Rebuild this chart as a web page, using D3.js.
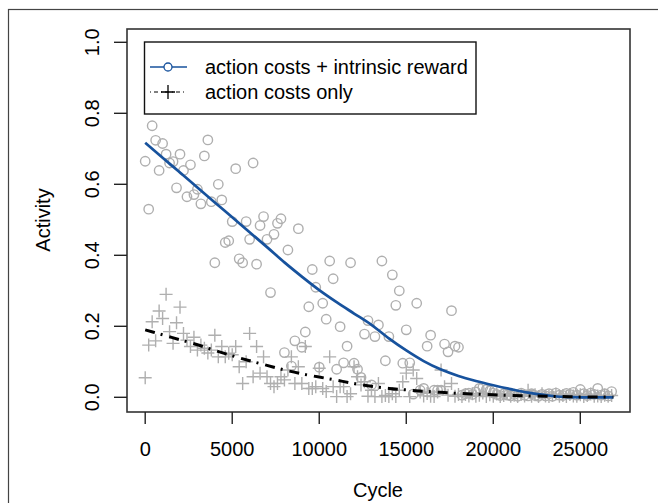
<!DOCTYPE html>
<html><head><meta charset="utf-8">
<script src="https://cdn.jsdelivr.net/npm/d3@7/dist/d3.min.js"></script>
<style>
html,body{margin:0;padding:0;background:#fff;}
svg{display:block;}
text{font-family:"Liberation Sans",Arial,Helvetica,sans-serif;fill:#000;}
</style></head>
<body>
<svg id="chart" width="658" height="503"></svg>
<script>
// ---------- data ----------
const cycleStep = 200;
const rewardActivity = [
0.665,0.53,0.765,0.724,0.639,0.715,0.685,0.66,0.664,0.59,
0.685,0.639,0.565,0.655,0.571,0.586,0.545,0.68,0.725,0.551,
0.379,0.6,0.556,0.436,0.441,0.495,0.644,0.39,0.379,0.495,
0.445,0.66,0.375,0.484,0.509,0.445,0.295,0.459,0.49,0.503,
0.126,0.415,0.088,0.159,0.475,0.141,0.184,0.255,0.36,0.31,
0.085,0.265,0.22,0.384,0.334,0.079,0.199,0.097,0.144,0.379,
0.096,0.079,0.056,0.178,0.216,0.035,0.171,0.204,0.384,0.103,
0.171,0.345,0.259,0.3,0.096,0.19,0.097,0.009,0.265,0.02,
0.025,0.144,0.175,0.02,0.02,0.02,0.15,0.128,0.244,0.144,
0.141,0.006,0.01,0.012,0.008,0.015,0.025,0.028,0.022,0.018,
0.012,0.008,0.005,0.01,0.006,0.004,0.008,0.003,0.012,0.006,
0.004,0.01,0.005,0.003,0.008,0.004,0.01,0.003,0.012,0.006,
0.005,0.011,0.008,0.014,0.006,0.022,0.01,0.005,0.012,0.008,
0.025,0.006,0.01,0.004,0.016];
const costOnlyActivity = [
0.055,0.147,0.213,0.159,0.243,0.222,0.29,0.185,0.152,0.21,
0.254,0.18,0.161,0.143,0.169,0.133,0.147,0.138,0.125,0.133,
0.175,0.114,0.143,0.114,0.124,0.12,0.143,0.086,0.039,0.1,
0.18,0.058,0.143,0.068,0.114,0.058,0.039,0.03,0.039,0.058,
0.049,0.077,0.114,0.039,0.086,0.039,0.143,0.025,0.025,0.03,
0.082,0.025,0.016,0.114,0.03,0.002,0.03,0.03,0.002,0.01,
0.086,0.058,0.035,0.044,0.003,0.02,0.002,0.039,0.002,0.005,
0.002,0.01,0.002,0.02,0.044,0.068,0.002,0.077,0.053,0.015,
0.004,0.011,0.003,0.002,0.015,0.077,0.03,0.006,0.039,0.003,
0.008,0.002,0.008,0.004,0.01,0.003,0.006,0.012,0.002,0.007,
0.003,0.009,0.002,0.005,0.011,0.003,0.006,0.002,0.008,0.004,
0.02,0.003,0.007,0.002,0.01,0.004,0.002,0.006,0.009,0.003,
0.005,0.002,0.008,0.004,0.003,0.007,0.002,0.005,0.009,0.003,
0.004,0.002,0.006,0.003,0.005];
const fitCycles = [0,1000,2000,3000,4000,5000,6000,7000,8000,9000,10000,11000,12000,13000,14000,15000,16000,17000,18000,19000,20000,21000,22000,23000,24000,25000,26000,26900];
const rewardFit = [0.717,0.675,0.633,0.591,0.549,0.507,0.465,0.423,0.380,0.340,0.302,0.268,0.236,0.204,0.166,0.132,0.102,0.078,0.060,0.046,0.034,0.023,0.013,0.006,0.001,0.0,0.0,0.0];
const costOnlyFit = [0.19,0.176,0.162,0.148,0.132,0.117,0.103,0.090,0.077,0.066,0.057,0.048,0.039,0.031,0.025,0.021,0.017,0.014,0.011,0.009,0.007,0.005,0.004,0.003,0.002,0.001,0.001,0.001];
const xTicks = [0,5000,10000,15000,20000,25000];
const yTicks = [0.0,0.2,0.4,0.6,0.8,1.0];
const legendLabels = ["action costs + intrinsic reward","action costs only"];

// ---------- layout ----------
const svg = d3.select("#chart");
const box = {left:127, right:630, top:29, bottom:412};
const x = d3.scaleLinear().domain([0,25000]).range([145.2,580.3]);
const y = d3.scaleLinear().domain([0,1]).range([397.3,42.3]);
const grey = "#afafaf";
const blue = "#17529d";
const fs = 20;

// outer frame
svg.append("rect").attr("x",8.5).attr("y",9.5).attr("width",700).attr("height",600)
  .attr("fill","none").attr("stroke","#444").attr("stroke-width",1.2);

// points
const circ = rewardActivity.map((v,i)=>({c:i*cycleStep,v}));
const plus = costOnlyActivity.map((v,i)=>({c:i*cycleStep,v}));
svg.append("g").selectAll("path").data(plus).join("path")
  .attr("d",d=>{const px=x(d.c),py=y(d.v);return `M${px-6.5},${py}H${px+6.5}M${px},${py-6.5}V${py+6.5}`;})
  .attr("stroke",grey).attr("stroke-width",1.4).attr("fill","none");
svg.append("g").selectAll("circle").data(circ).join("circle")
  .attr("cx",d=>x(d.c)).attr("cy",d=>y(d.v)).attr("r",4.7)
  .attr("fill","none").attr("stroke",grey).attr("stroke-width",1.4);

// fit lines
const line = d3.line().x(d=>x(d[0])).y(d=>y(d[1])).curve(d3.curveMonotoneX);
svg.append("path").datum(fitCycles.map((c,i)=>[c,rewardFit[i]]))
  .attr("d",line).attr("fill","none").attr("stroke",blue).attr("stroke-width",2.7);
svg.append("path").datum(fitCycles.map((c,i)=>[c,costOnlyFit[i]]))
  .attr("d",line).attr("fill","none").attr("stroke","#000").attr("stroke-width",3)
  .attr("stroke-dasharray","10,6,2,7");

// plot box
svg.append("rect").attr("x",box.left).attr("y",box.top)
  .attr("width",box.right-box.left).attr("height",box.bottom-box.top)
  .attr("fill","none").attr("stroke","#333").attr("stroke-width",1.6);

// x axis
const xa = svg.append("g");
xa.selectAll("line").data(xTicks).join("line")
  .attr("x1",d=>x(d)).attr("x2",d=>x(d)).attr("y1",box.bottom).attr("y2",box.bottom+12)
  .attr("stroke","#222").attr("stroke-width",1.4);
xa.selectAll("text").data(xTicks).join("text")
  .attr("x",d=>x(d)).attr("y",456).attr("text-anchor","middle")
  .attr("font-size",fs).text(d=>d3.format("d")(d));
// y axis
const ya = svg.append("g");
ya.selectAll("line").data(yTicks).join("line")
  .attr("y1",d=>y(d)).attr("y2",d=>y(d)).attr("x1",box.left).attr("x2",box.left-13)
  .attr("stroke","#222").attr("stroke-width",1.4);
ya.selectAll("text").data(yTicks).join("text")
  .attr("transform",d=>`translate(99,${y(d)}) rotate(-90)`).attr("text-anchor","middle")
  .attr("font-size",fs).text(d=>d.toFixed(1));

// axis titles
svg.append("text").attr("transform","translate(50,220) rotate(-90)").attr("text-anchor","middle")
  .attr("font-size",fs).text("Activity");
svg.append("text").attr("x",378).attr("y",497).attr("text-anchor","middle")
  .attr("font-size",fs).text("Cycle");

// legend
const lg = svg.append("g");
lg.append("rect").attr("x",144.5).attr("y",42).attr("width",331.5).attr("height",72)
  .attr("fill","#fff").attr("stroke","#111").attr("stroke-width",1.4);
const rows = [67,92];
lg.append("line").attr("x1",150).attr("x2",187).attr("y1",rows[0]).attr("y2",rows[0])
  .attr("stroke",blue).attr("stroke-width",1.6);
lg.append("circle").attr("cx",168).attr("cy",rows[0]).attr("r",4)
  .attr("fill","#fff").attr("stroke",blue).attr("stroke-width",1.3);
lg.append("line").attr("x1",150).attr("x2",187).attr("y1",rows[1]).attr("y2",rows[1])
  .attr("stroke","#000").attr("stroke-width",1.2).attr("stroke-dasharray","1,3,4,3");
lg.append("path").attr("d",`M161,${rows[1]}H175M168,${rows[1]-7}V${rows[1]+7}`)
  .attr("stroke","#000").attr("stroke-width",1.3);
lg.selectAll("text.lab").data(legendLabels).join("text").attr("class","lab")
  .attr("x",205).attr("y",(d,i)=>rows[i]+7).attr("font-size",fs).text(d=>d);
</script>
</body></html>
